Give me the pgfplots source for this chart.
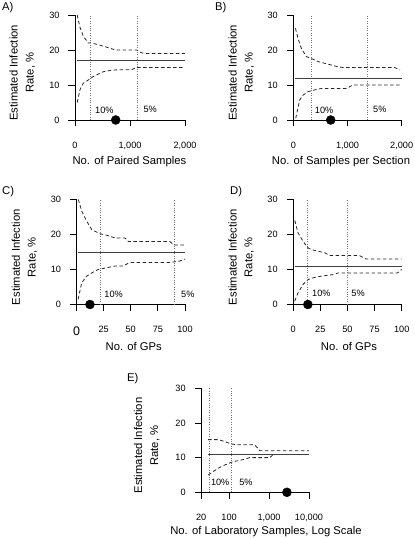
\documentclass[border=0pt]{standalone}
\usepackage{fontspec}
\setmainfont{Liberation Sans}
\usepackage{pgfplots}
\pgfplotsset{compat=1.18}

\pgfplotsset{
  panel/.style={
    scale only axis, axis lines=left, axis line style={-, line width=0.8bp},
    enlargelimits=false, clip=false,
    tick align=outside, major tick length=6.5bp,
    tick style={black, line width=0.8bp},
    ymin=0, ymax=30, ytick={0,10,20,30}, yticklabels={0,10,20,30},
    tick label style={font=\fontsize{9.2}{11}\selectfont},
    xticklabel style={yshift=-12bp},
    yticklabel style={xshift=-5.5bp},
    ylabel={Estimated Infection\\Rate, \%},
    ylabel style={align=center, font=\fontsize{11.3}{16}\selectfont,
      at={(axis description cs:-0.48,0.45)}, anchor=center},
    xlabel style={font=\fontsize{11.3}{13}\selectfont, anchor=center, yshift=-42bp},
  },
  mid/.style={black!75, line width=0.8bp, mark=none},
  ci/.style={black!85, line width=0.8bp, dash pattern=on 3.5bp off 2.5bp, mark=none},
  vl/.style={black!55, line width=0.6bp, dash pattern=on 0.8bp off 1.6bp, mark=none},
  pt/.style={only marks, mark=*, mark size=4.5bp, black},
}
\tikzset{
  pct/.style={anchor=west, inner sep=0pt, font=\fontsize{9.2}{11}\selectfont},
  plab/.style={anchor=west, inner sep=0pt, font=\fontsize{11.3}{13}\selectfont},
}

\begin{document}
\begin{tikzpicture}
\path[use as bounding box] (0,0) rectangle (415bp,539bp);

% ---------- A ----------
\begin{axis}[panel, at={(75bp,419bp)}, anchor=south west, width=110bp, height=105bp,
  xmin=0, xmax=2000, xtick={0,1000,2000}, xticklabels={0,{1,000},{2,000}},
  xlabel={No. of Paired Samples}, xlabel style={at={(axis description cs:0.495,0)}}]
\addplot[vl] coordinates {(285,0) (285,30)};
\addplot[vl] coordinates {(1140,0) (1140,30)};
\addplot[mid] coordinates {(40,17) (2000,17)};
\addplot[ci] coordinates {(40,30) (90,26.5) (150,24) (240,22) (300,22) (450,21.4) (640,20.5) (730,20) (1120,20) (1210,19.2) (1300,19) (2000,19)};
\addplot[ci] coordinates {(40,5) (90,8.6) (150,10.5) (240,11.4) (330,12.4) (515,13.8) (700,14.3) (1030,14.4) (1120,15) (2000,15)};
\addplot[pt] coordinates {(740,0)};
\node[pct] at (axis cs:364,2.9) {10\%};
\node[pct] at (axis cs:1242,2.9) {5\%};
\end{axis}

% ---------- B ----------
\begin{axis}[panel, at={(293.3bp,419bp)}, anchor=south west, width=108.4bp, height=105bp,
  xmin=0, xmax=2000, xtick={0,1000,2000}, xticklabels={0,{1,000},{2,000}},
  xlabel={No. of Samples per Section}, xlabel style={at={(axis description cs:0.44,0)}}]
\addplot[vl] coordinates {(340,0) (340,30)};
\addplot[vl] coordinates {(1370,0) (1370,30)};
\addplot[mid] coordinates {(37,12) (2000,12)};
\addplot[ci] coordinates {(40,26.2) (87,23.3) (148,20.5) (240,18.1) (332,17.6) (456,16.7) (580,16.2) (825,15.2) (917,15) (1870,15) (1970,14.3)};
\addplot[ci] coordinates {(45,0.5) (87,3.5) (117,5.7) (179,7.1) (271,8.1) (394,8.6) (517,9) (978,9) (1100,10) (2000,10)};
\addplot[pt] coordinates {(690,0)};
\node[pct] at (axis cs:395,2.9) {10\%};
\node[pct] at (axis cs:1470,2.9) {5\%};
\end{axis}

% ---------- C ----------
\begin{axis}[panel, at={(76.5bp,234.5bp)}, anchor=south west, width=108.5bp, height=105bp,
  xmin=0, xmax=100, xtick={0,25,50,75,100}, xticklabels={{\fontsize{12.5}{14}\selectfont 0},25,50,75,100},
  xlabel={No. of GPs}, xlabel style={at={(axis description cs:0.528,0)}}]
\addplot[vl] coordinates {(22.3,0) (22.3,30)};
\addplot[vl] coordinates {(90,0) (90,30)};
\addplot[mid] coordinates {(1.5,15) (100,15)};
\addplot[ci] coordinates {(1.7,30) (4.8,26.7) (9.4,23.8) (14,21.4) (21.7,20.2) (27.8,19.8) (35.5,19) (44.7,19) (47.8,18) (86,18) (90,17) (100,17)};
\addplot[ci] coordinates {(1.5,1.5) (4.8,6.2) (9.4,8.1) (14,9) (20,10) (27.8,10.5) (35.5,11) (43,11) (49,12) (86,12) (95,12.4) (100,13)};
\addplot[pt] coordinates {(12.4,0)};
\node[pct] at (axis cs:25.6,2.9) {10\%};
\node[pct] at (axis cs:96.3,2.9) {5\%};
\end{axis}

% ---------- D ----------
\begin{axis}[panel, at={(293.2bp,234.5bp)}, anchor=south west, width=108.5bp, height=105bp,
  xmin=0, xmax=100, xtick={0,25,50,75,100}, xticklabels={0,25,50,75,100},
  xlabel={No. of GPs}, xlabel style={at={(axis description cs:0.514,0)}}]
\addplot[vl] coordinates {(13,0) (13,30)};
\addplot[vl] coordinates {(50,0) (50,30)};
\addplot[mid] coordinates {(1.4,11) (100,11)};
\addplot[ci] coordinates {(1.5,24) (4.4,20.5) (9,18.1) (13.6,16.2) (16.7,15.7) (22.8,15.2) (29,14.8) (33.6,14) (61,14) (67,13) (100,13)};
\addplot[ci] coordinates {(1.4,1) (4.4,3.3) (9,5.7) (13.6,7.1) (18.2,7.6) (25.9,8.1) (38,8.6) (41,9) (96,9) (100,10)};
\addplot[pt] coordinates {(13.5,0)};
\node[pct] at (axis cs:17.3,3.1) {10\%};
\node[pct] at (axis cs:53.5,3.1) {5\%};
\end{axis}

% ---------- E ----------
\begin{axis}[panel, at={(201.2bp,46.7bp)}, anchor=south west, width=107.8bp, height=104bp,
  xmode=log, xmin=20, xmax=10000, xtick={20,100,1000,10000}, xticklabels={20,100,{1,000},{10,000}},
  xlabel={No. of Laboratory Samples, Log Scale},
  xlabel style={at={(axis description cs:0.601,0)}, yshift=3bp},
  ylabel style={at={(axis description cs:-0.505,0.45)}}]
\addplot[vl] coordinates {(31,0) (31,30)};
\addplot[vl] coordinates {(115,0) (115,30)};
\addplot[mid] coordinates {(30,11) (10000,11)};
\addplot[ci] coordinates {(30,15.2) (55,15.2) (110,14) (150,13.7) (435,13.7) (590,12) (10000,12)};
\addplot[ci] coordinates {(30,5) (41,6.1) (61,7.3) (82,8) (110,8.6) (148,9) (241,9.5) (324,10) (1045,10) (1300,11)};
\addplot[pt] coordinates {(2800,0)};
\node[pct] at (axis cs:34.8,2.8) {10\%};
\node[pct] at (axis cs:178,2.8) {5\%};
\end{axis}

% panel letters
\node[plab] at (2bp,531.5bp) {A)};
\node[plab] at (215bp,531.5bp) {B)};
\node[plab] at (2bp,347bp) {C)};
\node[plab] at (230bp,347bp) {D)};
\node[plab] at (127bp,160bp) {E)};
\end{tikzpicture}
\end{document}
